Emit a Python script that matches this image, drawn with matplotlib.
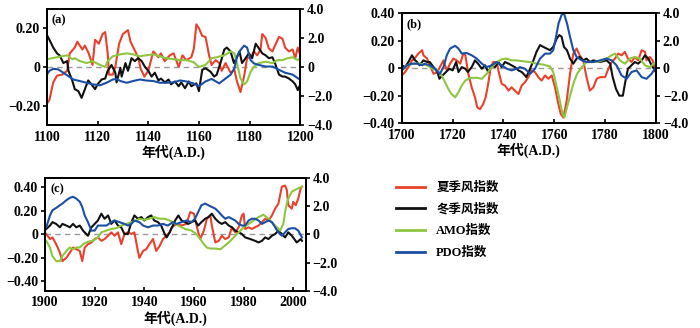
import matplotlib
matplotlib.use("Agg")
import matplotlib.pyplot as plt
from matplotlib.lines import Line2D

plt.rcParams['font.family'] = ['Liberation Serif', 'Noto Sans CJK SC']
plt.rcParams['font.weight'] = 'bold'
plt.rcParams['axes.unicode_minus'] = True

# colores de las series
c_red = '#e8412c'
c_black = '#111111'
c_green = '#8dc63f'
c_blue = '#1b4fa6'

# ---------------- panel (a) 1100-1200 ----------------
a_red_x = [1100, 1101, 1102.5, 1104, 1106, 1108, 1109, 1111, 1112, 1114, 1115, 1116.5, 1118, 1119, 1120.5,
           1122, 1123, 1124, 1124.5, 1126, 1127, 1128.5, 1130, 1132, 1133, 1134.5, 1136, 1137, 1138.5, 1140,
           1142, 1144, 1145, 1146.5, 1148.5, 1150, 1152, 1153.5, 1155, 1157, 1158, 1159, 1160, 1161.3, 1162.6,
           1164, 1165, 1166.6, 1168, 1169, 1170.5, 1172.5, 1174, 1175, 1176.4, 1177.8, 1179, 1180.4, 1181.7,
           1183, 1184.3, 1185, 1186.3, 1187.6, 1189, 1190, 1191.6, 1193, 1194, 1195.5, 1197, 1198, 1199, 1200]
a_red_y = [-0.19, -0.17, -0.08, -0.045, -0.04, -0.02, 0.07, 0.10, 0.13, 0.09, 0.11, 0.07, 0.01, 0.14, 0.12,
           0.17, 0.18, 0.07, -0.04, -0.04, 0.0, 0.12, 0.17, 0.19, 0.13, 0.09, 0.05, -0.01, -0.05, -0.02,
           0.08, 0.05, 0.07, 0.03, 0.06, 0.07, 0.0, 0.06, 0.035, 0.05, 0.095, 0.22, 0.20, 0.16, 0.155,
           0.06, 0.01, 0.035, 0.02, -0.02, 0.02, -0.03, -0.015, -0.075, -0.13, -0.05, 0.045, 0.05, 0.08,
           0.06, 0.09, 0.17, 0.15, 0.095, 0.08, 0.11, 0.155, 0.145, 0.10, 0.08, 0.09, 0.045, 0.10, 0.06]

a_black_x = [1100, 1101, 1102.5, 1104, 1105, 1106.5, 1108, 1108.5, 1110, 1111, 1112.4, 1113.7, 1115, 1116.3,
             1117.6, 1119, 1120, 1121.6, 1123, 1124, 1125.5, 1127, 1127.5, 1129, 1129.5, 1131, 1132, 1133.4,
             1134.7, 1136, 1137.4, 1138.7, 1140, 1141.3, 1142.6, 1144, 1145, 1146.6, 1148, 1149, 1150.5, 1152,
             1153, 1154.5, 1156, 1157, 1159, 1160, 1161.3, 1162.6, 1164.6, 1166, 1167, 1168.5, 1170, 1171,
             1172.5, 1173.8, 1175, 1176, 1177, 1178.4, 1179.7, 1181, 1182.4, 1183.7, 1185, 1186.3, 1187.6,
             1189, 1190, 1191.6, 1193, 1194, 1195.5, 1197, 1198, 1199, 1200]
a_black_y = [0.165, 0.14, 0.10, 0.07, 0.06, 0.02, 0.03, -0.02, -0.07, -0.115, -0.125, -0.16, -0.115, -0.07,
             -0.09, -0.115, -0.09, -0.065, -0.06, -0.02, 0.01, -0.03, -0.08, -0.005, -0.05, 0.02, -0.02, 0.045,
             0.03, 0.045, 0.03, 0.0, -0.02, -0.05, -0.03, -0.07, -0.06, -0.08, -0.065, -0.09, -0.075, -0.10,
             -0.08, -0.11, -0.075, -0.10, -0.085, -0.125, -0.015, -0.007, -0.025, -0.05, -0.04, 0.02, 0.09, 0.10,
             0.08, 0.02, 0.05, 0.08, 0.02, 0.045, 0.07, 0.045, 0.12, 0.095, 0.07, 0.06, 0.045,
             0.05, 0.02, -0.04, -0.05, -0.05, -0.06, -0.075, -0.09, -0.12, -0.09]

a_green_x = [1100, 1104, 1108, 1110, 1111, 1113, 1115.7, 1118, 1121, 1123, 1124, 1126, 1129, 1131.5, 1134,
             1136.7, 1139, 1142, 1144.6, 1147, 1150, 1152.5, 1155, 1157.8, 1160, 1162.6, 1165, 1167, 1170,
             1172.5, 1174, 1175, 1176.4, 1177.8, 1179, 1180.4, 1181.7, 1183.7, 1186.3, 1189, 1191, 1193, 1195,
             1197, 1199, 1200]
a_green_y = [0.04, 0.05, 0.06, 0.04, 0.045, 0.03, 0.02, 0.03, 0.01, 0.0, 0.03, 0.055, 0.065, 0.07, 0.065,
             0.055, 0.06, 0.065, 0.055, 0.045, 0.04, 0.035, 0.035, 0.025, 0.0, 0.01, 0.045, 0.05, 0.06,
             0.08, 0.07, 0.02, -0.06, -0.09, -0.075, -0.025, 0.0, 0.02, 0.027, 0.02, 0.035, 0.035, 0.045,
             0.05, 0.035, 0.045]

a_blue_x = [1100, 1101, 1102.5, 1104.5, 1106.5, 1108.4, 1110.4, 1113, 1115.6, 1118, 1121, 1123.5, 1126, 1127.5,
            1129, 1131.5, 1134, 1136.7, 1139, 1142, 1144.6, 1147, 1150, 1152.5, 1155, 1157.8, 1160, 1162.6,
            1165, 1168, 1170.5, 1172.5, 1174, 1175, 1176.4, 1177.8, 1179, 1180.4, 1181.7, 1183.7, 1186.3,
            1189, 1191.6, 1194, 1197, 1200]
a_blue_y = [-0.04, -0.02, -0.01, -0.013, -0.03, -0.047, -0.065, -0.073, -0.082, -0.09, -0.095, -0.082, -0.065, -0.062,
            -0.073, -0.082, -0.073, -0.065, -0.07, -0.073, -0.082, -0.082, -0.08, -0.07, -0.075, -0.085, -0.1, -0.075,
            -0.062, -0.085, -0.06, -0.04, -0.007, 0.053, 0.087, 0.11, 0.10, 0.035, 0.018, 0.01, 0.002,
            0.002, -0.015, -0.03, -0.04, -0.067]

# ---------------- panel (b) 1700-1800 ----------------
b_red_x = [1700, 1701.3, 1702.6, 1704, 1705, 1706.5, 1708, 1708.5, 1710, 1711, 1712.5, 1714, 1715, 1716.4, 1717.7,
           1719, 1720.3, 1721.6, 1723, 1724.2, 1725, 1726.2, 1727.5, 1728.8, 1729.7, 1730.8, 1732, 1733, 1734,
           1735, 1736, 1737.4, 1738, 1739.3, 1740.6, 1742, 1743.2, 1744.5, 1745.9, 1747.2, 1748.5, 1749.8, 1751,
           1752.4, 1753.7, 1755, 1756.4, 1757.7, 1759, 1760.3, 1761.6, 1762.6, 1763.6, 1764.9, 1766.2, 1767.5,
           1768.8, 1770, 1771.4, 1772.7, 1774, 1775.4, 1776.7, 1778, 1780, 1781.3, 1782.6, 1783.9, 1785.2,
           1786.5, 1787.8, 1789, 1790.4, 1791.7, 1793, 1794.4, 1795.7, 1796.3, 1797.6, 1798.7, 1800]
b_red_y = [-0.054, -0.029, 0.007, 0.056, 0.069, 0.105, 0.130, 0.093, 0.069, 0.02, -0.042, -0.029, 0.007, 0.056, -0.017,
           0.032, 0.069, 0.056, 0.032, 0.105, 0.093, -0.042, -0.14, -0.213, -0.287, -0.299, -0.262, -0.213, -0.115,
           0.007, 0.044, 0.044, -0.017, -0.115, -0.127, -0.164, -0.140, -0.164, -0.189, -0.127, -0.103, -0.066, -0.017,
           -0.029, -0.066, -0.091, -0.054, -0.078, -0.054, -0.140, -0.262, -0.336, -0.360, -0.238, -0.042, 0.105,
           0.142, 0.093, 0.056, -0.066, -0.164, -0.140, -0.078, -0.066, -0.066, -0.005, 0.044, 0.069, 0.105,
           0.093, 0.118, 0.069, 0.044, 0.081, 0.056, 0.130, 0.118, 0.056, 0.081, 0.056, -0.029]

b_black_x = [1700, 1701.3, 1702.6, 1704, 1705, 1706, 1707, 1708.5, 1710, 1711, 1712.5, 1714, 1714.8, 1716, 1717.4,
             1718.7, 1720, 1721.4, 1722.3, 1723.6, 1725, 1726, 1727.5, 1728.8, 1730, 1731.5, 1732.8, 1734, 1735.4,
             1736.7, 1738, 1739.3, 1740.6, 1742, 1743.2, 1744.5, 1745.9, 1747.2, 1748.5, 1749, 1750.5, 1751.8,
             1753, 1754.4, 1755.7, 1757, 1758.3, 1759.6, 1761, 1762, 1762.9, 1763.8, 1765, 1766.2, 1767.5,
             1768.8, 1770, 1771.4, 1772.7, 1774, 1775.4, 1778, 1780.6, 1782, 1783, 1784.3, 1785.6, 1787,
             1787.8, 1789, 1790.4, 1791.7, 1793, 1794.4, 1795.7, 1797, 1798.3, 1800]
b_black_y = [0.020, 0.007, 0.044, 0.093, 0.061, 0.044, 0.020, 0.056, 0.044, 0.044, 0.007, -0.029, -0.078, -0.054, -0.029,
             -0.005, -0.017, 0.044, -0.029, 0.007, -0.005, -0.029, 0.007, 0.056, 0.032, -0.005, 0.020, -0.029, 0.020,
             0.007, 0.044, 0.007, 0.044, 0.032, 0.020, 0.007, -0.017, -0.029, -0.054, -0.066, -0.005, 0.056,
             0.118, 0.167, 0.154, 0.142, 0.130, 0.154, 0.216, 0.240, 0.228, 0.154, 0.130, 0.069, 0.032,
             0.069, 0.081, 0.056, 0.069, 0.044, 0.056, 0.044, 0.056, 0.032, -0.066, -0.152, -0.201, -0.201,
             -0.115, -0.005, 0.020, 0.044, 0.032, 0.056, 0.093, 0.069, 0.020, -0.029]

b_green_x = [1700, 1702, 1704.6, 1707, 1710, 1712, 1714, 1715.7, 1717, 1718.3, 1719.6, 1721, 1722.3, 1723.6, 1725,
             1727, 1729.5, 1731.5, 1733.4, 1735.4, 1737.4, 1739.3, 1741.3, 1743.2, 1745.2, 1747.8, 1750.5, 1753,
             1755.7, 1758.3, 1759.6, 1761, 1762.2, 1763.3, 1764, 1765, 1766.4, 1767.7, 1769, 1770.8, 1772.7,
             1775.4, 1778, 1780.6, 1782.6, 1784, 1785.8, 1787.8, 1789.8, 1791.7, 1793.7, 1795.7, 1797.6, 1800]
b_green_y = [-0.017, 0.020, 0.032, 0.032, 0.020, -0.005, -0.017, -0.054, -0.103, -0.152, -0.189, -0.213, -0.176, -0.127, -0.091,
             -0.071, -0.071, -0.078, -0.042, 0.007, 0.044, 0.064, 0.069, 0.056, 0.056, 0.049, 0.044, 0.032,
             0.025, 0.012, -0.029, -0.140, -0.238, -0.336, -0.360, -0.287, -0.189, -0.103, -0.042, 0.007, 0.044,
             0.044, 0.049, 0.069, 0.093, 0.105, 0.056, 0.032, 0.069, 0.081, 0.069, 0.020, 0.007, 0.044]

b_blue_x = [1700, 1702, 1704, 1706, 1708, 1709, 1711, 1713, 1715, 1716.4, 1717.7, 1719, 1721, 1722.3, 1723.6,
            1725.5, 1727.5, 1729.5, 1731.5, 1733.4, 1735.4, 1737.4, 1739.3, 1741.3, 1743.2, 1745.2, 1746.5,
            1748.5, 1750.5, 1752.4, 1754.4, 1756.4, 1758.3, 1759.6, 1760.7, 1761.7, 1762.9, 1763.8, 1765,
            1766.2, 1767.5, 1768.8, 1770.8, 1772.7, 1775.4, 1778, 1780.6, 1782.6, 1784.5, 1786.5, 1788.5,
            1790.4, 1792.4, 1794.4, 1796.3, 1798.3, 1800]
b_blue_y = [-0.017, 0.020, 0.032, 0.032, 0.020, 0.032, 0.020, -0.005, -0.042, 0.007, 0.093, 0.142, 0.162, 0.142, 0.105,
            0.110, 0.093, 0.069, 0.032, 0.007, 0.020, 0.044, 0.020, -0.005, -0.017, -0.005, 0.007,
            -0.005, -0.042, -0.005, 0.069, 0.105, 0.105, 0.130, 0.228, 0.326, 0.387, 0.399, 0.326,
            0.228, 0.130, 0.081, 0.056, 0.044, 0.044, 0.056, 0.069, 0.056, 0.020, -0.054, -0.078,
            -0.029, -0.017, -0.066, -0.078, -0.042, 0.007]

# ---------------- panel (c) 1900-2005 ----------------
c_red_x = [1900.5, 1902, 1903, 1904.5, 1906, 1907, 1908.6, 1910, 1911.3, 1912.6, 1914, 1915, 1916, 1917.3, 1918.7,
           1920, 1921.3, 1922.7, 1924, 1925.4, 1926.7, 1928, 1929.4, 1930.7, 1932, 1933.4, 1934.8, 1936, 1937.4,
           1938, 1939.5, 1940.8, 1942, 1943.5, 1944.8, 1946.2, 1947.5, 1948.9, 1950.2, 1951, 1953, 1955, 1957,
           1958.5, 1960, 1961.2, 1962.5, 1964, 1965.2, 1966.6, 1967.2, 1968.6, 1970, 1971.2, 1972.6, 1974,
           1975.3, 1976.6, 1978, 1979.3, 1980, 1980.6, 1982, 1983.3, 1984.6, 1986, 1987.4, 1988.7, 1990,
           1991.4, 1992.7, 1994, 1995.4, 1996.7, 1997.4, 1998, 1999.4, 2000, 2001, 2002, 2003, 2003.5]
c_red_y = [0.003, -0.04, -0.026, -0.084, -0.156, -0.228, -0.2, -0.156, -0.112, -0.127, -0.141, -0.228, -0.112, -0.084, -0.069,
           -0.04, -0.026, -0.055, -0.04, -0.012, 0.017, -0.012, 0.017, -0.084, 0.003, 0.017, 0.003, 0.017, -0.141,
           -0.2, -0.141, -0.127, -0.084, -0.04, -0.141, -0.098, -0.04, -0.012, 0.017, 0.06, 0.089, 0.075, 0.089,
           0.19, 0.176, 0.06, -0.04, 0.032, 0.133, 0.161, 0.075, -0.069, -0.055, -0.012, -0.04, -0.026,
           0.06, 0.017, 0.06, 0.161, 0.176, 0.046, 0.06, 0.046, 0.06, 0.075, 0.104, 0.133, 0.118,
           0.161, 0.219, 0.262, 0.406, 0.415, 0.378, 0.248, 0.219, 0.277, 0.248, 0.305, 0.392, 0.406]

c_black_x = [1900.5, 1902, 1903, 1904.5, 1906, 1907, 1908.6, 1910, 1911.3, 1912.6, 1914, 1915.3, 1916.6, 1917.3,
             1918.7, 1920, 1921.3, 1922.7, 1924, 1925.4, 1926.7, 1928, 1929.4, 1930.7, 1932, 1933.4, 1934.8, 1936,
             1937.4, 1938.8, 1940, 1941.5, 1942.8, 1944, 1945.5, 1946.8, 1948.2, 1949, 1950.2, 1951.5, 1952.4,
             1953.7, 1955, 1956.4, 1957.7, 1959, 1960.4, 1961.7, 1963, 1964.5, 1965.8, 1967.2, 1968.6, 1970,
             1971.2, 1972.6, 1974, 1975.3, 1976.6, 1978, 1979.3, 1980.6, 1982.7, 1984.6, 1986, 1987.4, 1988.7,
             1990, 1991.4, 1992.7, 1994, 1995.4, 1996.7, 1998, 1999.4, 2000.4, 2001.4, 2003, 2003.5]
c_black_y = [0.046, 0.075, 0.104, 0.089, 0.06, 0.089, 0.075, 0.06, 0.089, 0.06, 0.075, 0.032, 0.003, -0.012,
             0.06, 0.089, 0.118, 0.176, 0.133, 0.161, 0.089, 0.118, 0.075, 0.06, 0.003, 0.003, 0.104, 0.161,
             0.133, 0.147, 0.118, 0.147, 0.161, 0.118, 0.104, 0.075, 0.003, -0.026, 0.017, 0.075, 0.118,
             0.161, 0.118, 0.104, 0.089, 0.104, 0.118, 0.075, 0.104, 0.133, 0.147, 0.176, 0.133, 0.104,
             0.089, 0.104, 0.075, 0.06, 0.032, 0.017, 0.003, -0.026, -0.04, -0.055, -0.069, -0.055, -0.026,
             -0.04, -0.012, 0.003, 0.032, 0.003, -0.026, 0.017, -0.012, -0.04, -0.069, -0.04, -0.055]

c_green_x = [1900.5, 1902, 1903, 1904.5, 1906, 1907, 1908.6, 1910, 1911.3, 1912.6, 1914, 1915.3, 1917.3, 1919.3,
             1921.3, 1922.7, 1924.7, 1926.7, 1928.7, 1930.7, 1932.8, 1934.8, 1936.8, 1938, 1940, 1942, 1944,
             1946.2, 1948.2, 1950.2, 1951.5, 1953.7, 1956.4, 1959, 1961, 1962.5, 1964, 1965.2, 1966.6, 1968.6,
             1970.6, 1972, 1974, 1976, 1978, 1980, 1982, 1984, 1986, 1988, 1990, 1992, 1993.4, 1994.7, 1996,
             1996.7, 1997.4, 1998, 1999.4, 2000.7, 2002, 2003.5]
c_green_y = [-0.055, -0.112, -0.185, -0.228, -0.228, -0.185, -0.141, -0.112, -0.127, -0.112, -0.112, -0.084, -0.063, -0.055,
             -0.026, 0.017, 0.032, 0.046, 0.052, 0.075, 0.089, 0.104, 0.118, 0.133, 0.124, 0.133, 0.147,
             0.133, 0.133, 0.118, 0.104, 0.075, 0.046, 0.032, 0.003, -0.04, -0.084, -0.112, -0.121, -0.121,
             -0.127, -0.104, -0.069, -0.026, 0.017, 0.06, 0.089, 0.118, 0.147, 0.167, 0.133, 0.089, 0.06, 0.032, 0.089,
             0.19, 0.262, 0.305, 0.363, 0.378, 0.392, 0.406]

c_blue_x = [1900.5, 1902, 1903, 1904.5, 1906, 1907, 1908.6, 1910, 1911.3, 1912.6, 1914, 1915, 1916, 1917.3, 1918.7,
            1920, 1921.3, 1922.7, 1924.7, 1926.7, 1928, 1930, 1932, 1933.4, 1934.8, 1936, 1938, 1939.5, 1941.5,
            1943.5, 1945.5, 1947.5, 1949.5, 1951.5, 1953, 1955, 1957, 1959, 1960.4, 1961.7, 1963, 1964.5,
            1965.8, 1967.2, 1968.6, 1970, 1971.2, 1972.6, 1974, 1975.3, 1976.6, 1978, 1979.3, 1980.6, 1982,
            1983.3, 1984.6, 1986, 1987.4, 1988.7, 1990, 1991.4, 1992.7, 1994, 1995.4, 1996.7, 1998, 1999.4,
            2000.7, 2002, 2003.5]
c_blue_y = [0.06, 0.161, 0.205, 0.225, 0.248, 0.262, 0.291, 0.311, 0.32, 0.305, 0.277, 0.233, 0.161, 0.104, 0.032,
            0.032, 0.075, 0.075, 0.075, 0.104, 0.118, 0.104, 0.089, 0.075, 0.089, 0.118, 0.104, 0.075, 0.06,
            0.075, 0.075, 0.089, 0.075, 0.104, 0.089, 0.104, 0.118, 0.104, 0.133, 0.19, 0.248, 0.262,
            0.248, 0.233, 0.219, 0.19, 0.161, 0.133, 0.147, 0.133, 0.118, 0.089, 0.075, 0.075, 0.118,
            0.133, 0.133, 0.118, 0.089, 0.104, 0.118, 0.104, 0.06, 0.017, -0.012, 0.017, 0.046, 0.052,
            0.052, 0.032, -0.026]

etiquetas = ['夏季风指数', '冬季风指数', 'AMO指数', 'PDO指数']
colores = [c_red, c_black, c_green, c_blue]


def fmt(v):
    # formato de las marcas: 0 sin decimales, el resto con signo menos tipografico
    if v == 0:
        return '0'
    return f'{v:.2f}'.replace('-', '\u2212')


def fmt_r(v):
    if v == 0:
        return '0'
    return f'{v:.1f}'.replace('-', '\u2212')


def panel(pos, letra, series, xlim, xticks, ylim, yticks):
    ax = fig.add_axes(pos)
    for (xs, ys), col in zip(series, colores):
        ax.plot(xs, ys, color=col, lw=1.5, zorder=3)
    ax.axhline(0, color='#999999', lw=1.0, ls=(0, (4, 3)), zorder=1)
    ax.set_xlim(*xlim)
    ax.set_ylim(*ylim)
    ax.set_xticks(xticks)
    ax.set_xticklabels([str(t) for t in xticks], fontsize=10, fontweight='bold')
    ax.set_yticks(yticks)
    ax.set_yticklabels([fmt(t) for t in yticks], fontsize=10, fontweight='bold')
    ax.tick_params(axis='x', direction='in', length=3, width=1.2, pad=4)
    ax.tick_params(axis='y', direction='out', length=3, width=1.2, pad=2)
    for s in ax.spines.values():
        s.set_linewidth(1.3)
    ax.text(0.02, 0.95, letra, transform=ax.transAxes, ha='left', va='top',
            fontsize=9, fontweight='bold')
    ax.set_xlabel('年代(A.D.)', fontsize=10, fontweight='bold', labelpad=1)

    # eje derecho solo como escala
    ax2 = ax.twinx()
    ax2.set_ylim(-4, 4)
    rt = [-4, -2, 0, 2, 4]
    ax2.set_yticks(rt)
    ax2.set_yticklabels([fmt_r(t) for t in rt], fontsize=10, fontweight='bold')
    ax2.tick_params(axis='y', direction='out', length=3, width=1.2, pad=2)
    for s in ax2.spines.values():
        s.set_linewidth(1.3)
    return ax


fig = plt.figure(figsize=(7.0, 3.28), dpi=100)

panel([0.067, 0.619, 0.362, 0.354], '(a)',
      [(a_red_x, a_red_y), (a_black_x, a_black_y), (a_green_x, a_green_y), (a_blue_x, a_blue_y)],
      (1100, 1200), [1100, 1120, 1140, 1160, 1180, 1200], (-0.3, 0.3), [-0.2, 0, 0.2])

panel([0.574, 0.625, 0.363, 0.335], '(b)',
      [(b_red_x, b_red_y), (b_black_x, b_black_y), (b_green_x, b_green_y), (b_blue_x, b_blue_y)],
      (1700, 1800), [1700, 1720, 1740, 1760, 1780, 1800], (-0.4, 0.4), [-0.4, -0.2, 0, 0.2, 0.4])

panel([0.0643, 0.1137, 0.3724, 0.3436], '(c)',
      [(c_red_x, c_red_y), (c_black_x, c_black_y), (c_green_x, c_green_y), (c_blue_x, c_blue_y)],
      (1900, 2005), [1900, 1920, 1940, 1960, 1980, 2000], (-0.48, 0.48), [-0.4, -0.2, 0, 0.2, 0.4])

handles = [Line2D([], [], color=c, lw=2.0) for c in colores]
fig.legend(handles, etiquetas, loc='upper left', bbox_to_anchor=(0.55, 0.48),
           frameon=False, handlelength=2.3, handletextpad=0.9,
           labelspacing=0.75, prop={'weight': 'bold', 'size': 9})

fig.savefig('out.png', dpi=100)
